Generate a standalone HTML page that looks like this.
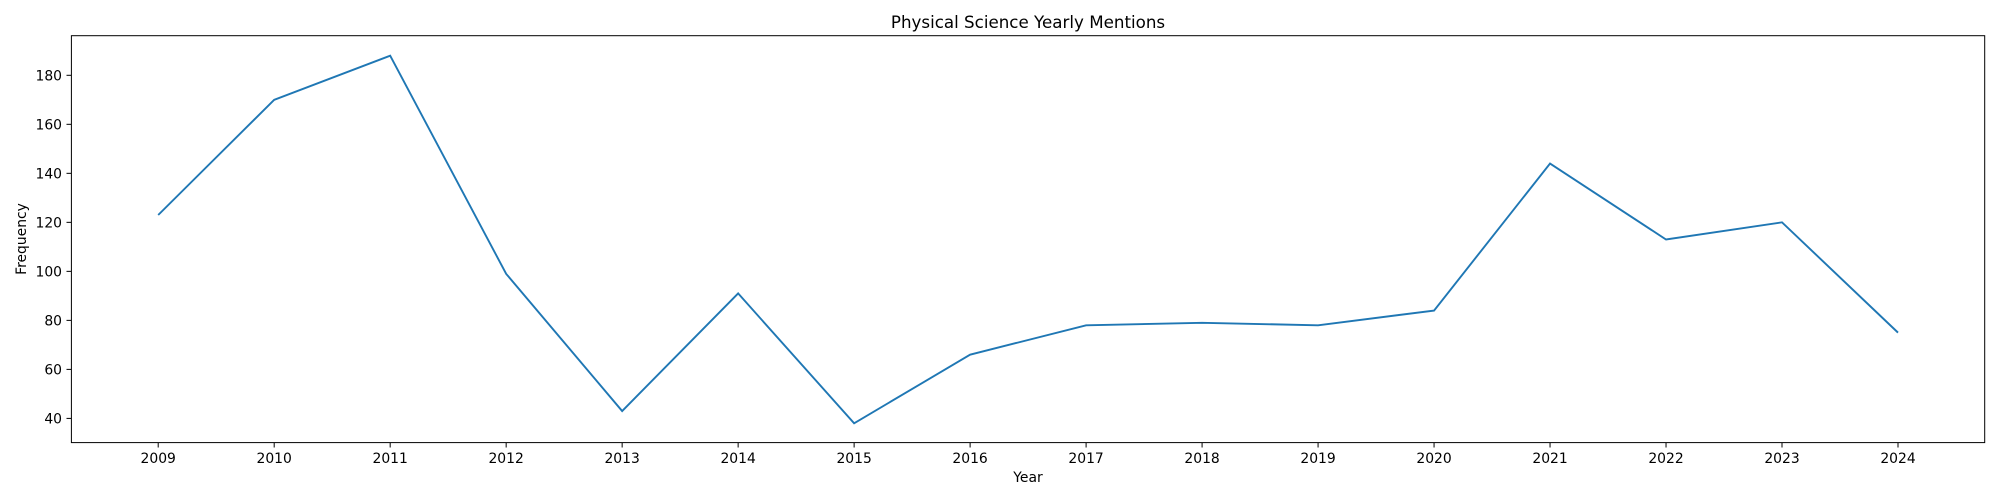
<!DOCTYPE html>
<html><head><meta charset="utf-8">
<style>body{margin:0;background:#fff}svg{display:block;font-family:"DejaVu Sans","Liberation Sans",sans-serif}</style>
</head><body>
<svg id="chart" width="2000" height="500">
<rect x="0" y="0" width="2000" height="500" fill="#fff"/>
<text x="1028" y="28" text-anchor="middle" font-size="16.7">Physical Science Yearly Mentions</text>
<g id="xt"></g><g id="yt"></g>
<path id="ln" fill="none" stroke="#1f77b4" stroke-width="1.9"/>
<rect x="71.4" y="35.7" width="1913.3" height="406.9" fill="none" stroke="#000" stroke-width="1"/>
<text x="1028" y="482" text-anchor="middle" font-size="13.9">Year</text>
<text transform="translate(26,239) rotate(-90)" text-anchor="middle" font-size="13.9">Frequency</text>
</svg>
<script>
const years=[2009,2010,2011,2012,2013,2014,2015,2016,2017,2018,2019,2020,2021,2022,2023,2024];
const freq=[123,170,188,99,43,91,38,66,78,79,78,84,144,113,120,75];
const yTicks=[40,60,80,100,120,140,160,180];
const NS="http://www.w3.org/2000/svg";
const xs=y=>158.2+(y-2009)*(1898.0-158.2)/15;
const ys=v=>418.4-(v-40)*(418.4-75.3)/140;
const xt=document.getElementById('xt'),yt=document.getElementById('yt');
years.forEach(y=>{
 const l=document.createElementNS(NS,'line');
 l.setAttribute('x1',xs(y));l.setAttribute('x2',xs(y));l.setAttribute('y1',442.6);l.setAttribute('y2',447.5);l.setAttribute('stroke','#000');
 
 
 xt.appendChild(l);
 const t=document.createElementNS(NS,'text');
 t.setAttribute('x',xs(y));t.setAttribute('y',463);t.setAttribute('text-anchor','middle');t.setAttribute('font-size','13.9');t.textContent=y;
 
 
 xt.appendChild(t);
});
yTicks.forEach(v=>{
 const l=document.createElementNS(NS,'line');
 l.setAttribute('x1',66.5);l.setAttribute('x2',71.4);l.setAttribute('y1',ys(v));l.setAttribute('y2',ys(v));l.setAttribute('stroke','#000');
 
 
 yt.appendChild(l);
 const t=document.createElementNS(NS,'text');
 t.setAttribute('x',62);t.setAttribute('y',ys(v)+5);t.setAttribute('text-anchor','end');t.setAttribute('font-size','13.9');t.textContent=v;
 
 
 yt.appendChild(t);
});
document.getElementById('ln').setAttribute('d',freq.map((v,i)=>(i?'L':'M')+xs(years[i])+','+ys(v)).join(' '));
</script>
</body></html>
